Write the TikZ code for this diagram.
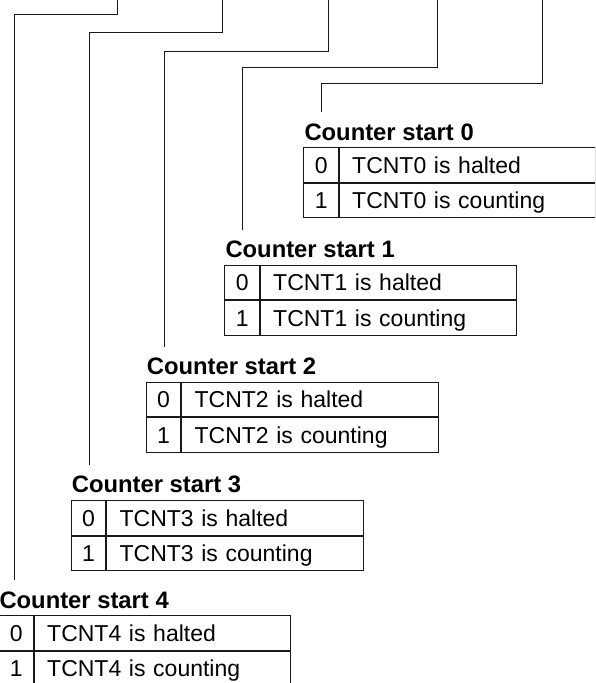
\documentclass[tikz,border=0pt]{standalone}
\usepackage{fontspec}
\setmainfont{Liberation Sans}
\begin{document}
\begin{tikzpicture}[x=1pt,y=-1pt,
  conn/.style={line width=1pt, draw=black!90},
  cell/.style={draw=black!90, line width=1pt, anchor=north west, minimum height=34.5pt, inner sep=0pt, text height=16.5pt, text depth=0pt, font=\fontsize{23}{27}\selectfont},
  numcell/.style={cell, minimum width=34.7pt, align=center},
  txtcell/.style={cell, minimum width=256.3pt, text width=230.9pt, inner xsep=12.7pt, align=left},
  ttl/.style={anchor=base west, inner sep=0pt, font=\fontsize{23.8}{28}\selectfont\bfseries}]
\useasboundingbox (0,0) rectangle (595,683);
\clip (0,0) rectangle (595,683);
\foreach \i/\l/\t/\tx/\hy/\vx in {0/303.3/147.3/542.7/83.5/321.5,
                                  1/224.3/264.6/437.3/67.5/242.7,
                                  2/145.7/381.7/328.7/51.7/164,
                                  3/70.7/500/222.3/32.7/89.3,
                                  4/-1.7/615.3/117.3/14.3/14.3} {
  \node[ttl] (title\i) at (\l+1,\t-7.3) {Counter start \i};
  \node[numcell] (z\i) at (\l,\t) {0};
  \node[txtcell] (zt\i) at (z\i.north east) {TCNT\i{} is halted};
  \node[numcell] (o\i) at (z\i.south west) {1};
  \node[txtcell] (ot\i) at (o\i.north east) {TCNT\i{} is counting};
  \coordinate (top\i) at (\tx,-2);
  \coordinate (corner\i) at (\vx,\hy);
  \coordinate (end\i) at (\vx,\t-35);
  \draw[conn] (top\i) |- (corner\i) -- (end\i);
}
\end{tikzpicture}
\end{document}
